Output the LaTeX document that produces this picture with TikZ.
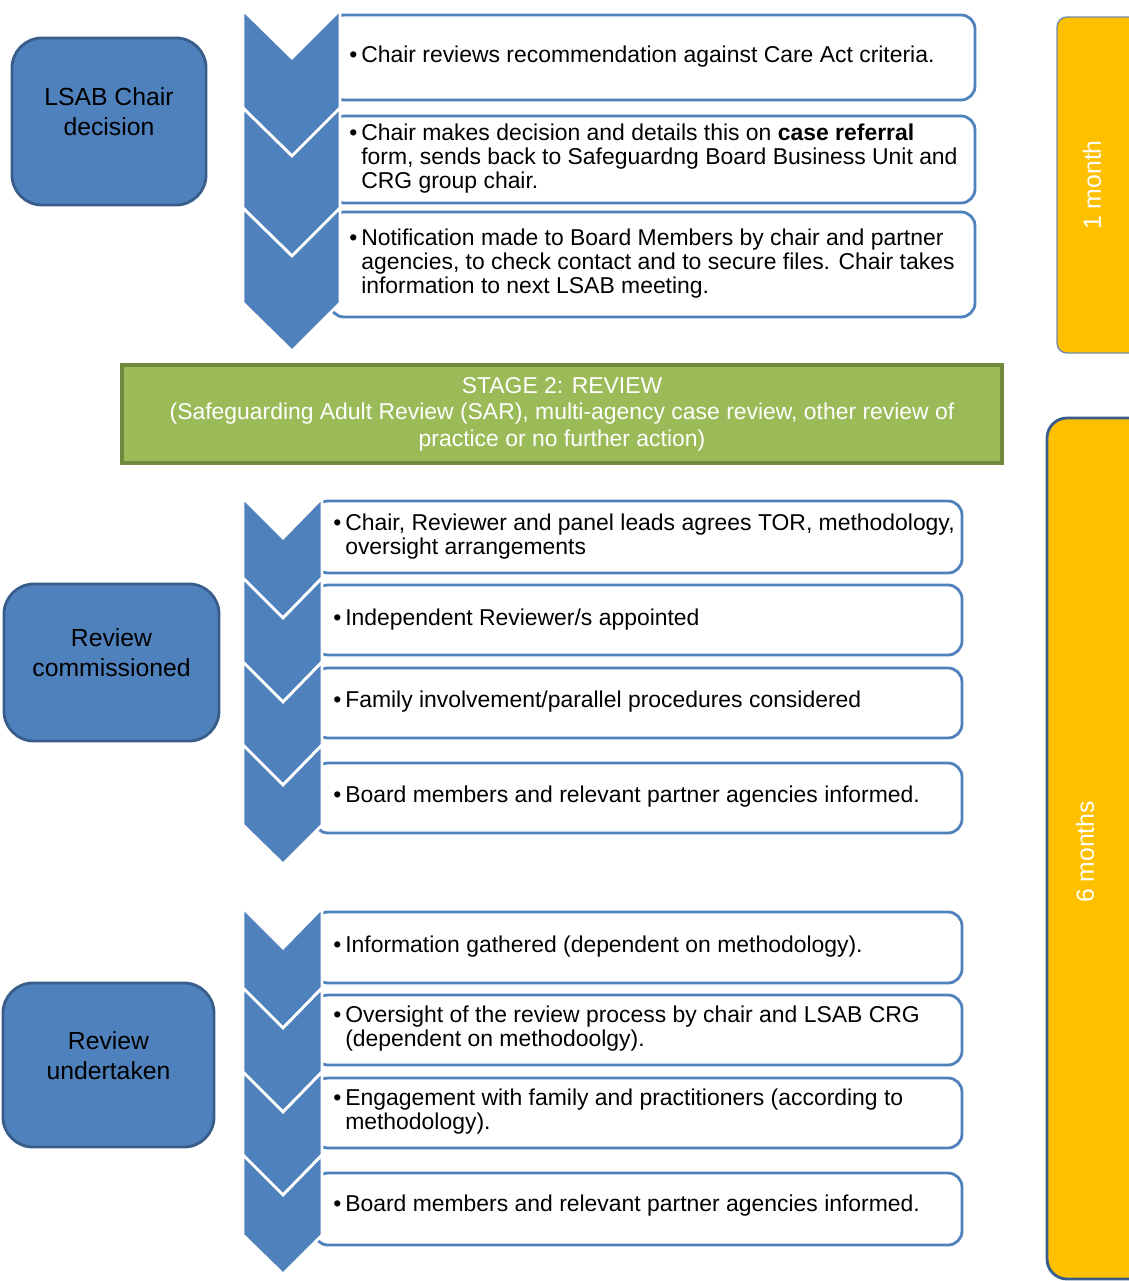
\documentclass[tikz,border=0pt]{standalone}
\usepackage{fontspec}
\setmainfont{Liberation Sans}
\usepackage{tikz}

\definecolor{chevblue}{HTML}{4F81BD}
\definecolor{phaseedge}{HTML}{385D8A}
\definecolor{stagegreen}{HTML}{9BBB59}
\definecolor{stageedge}{HTML}{71893F}
\definecolor{monthorange}{HTML}{FFC000}
\definecolor{baredge}{HTML}{6F8DB3}

\begin{document}
\begin{tikzpicture}[x=0.025cm, y=-0.025cm]
        \tikzstyle{chev} = [fill=chevblue, draw=white, line width=2pt, line join=miter]
        \tikzstyle{stepbox} = [draw=chevblue, line width=2pt, fill=white, rounded corners=0.35cm]
        \tikzstyle{steptext} = [anchor=west, align=left, inner sep=0pt, font=\fontsize{16.3}{17.1}\selectfont]
        \tikzstyle{phase} = [rectangle, draw=phaseedge, line width=2pt, fill=chevblue, rounded corners=0.75cm]
        \tikzstyle{phasetext} = [align=center, inner sep=0pt, font=\fontsize{17.6}{21.3}\selectfont]
        \tikzstyle{stage} = [rectangle, draw=stageedge, line width=3pt, fill=stagegreen, minimum width=22cm, minimum height=2.45cm, align=center, text=white, inner sep=0pt, font=\fontsize{16.3}{18.8}\selectfont]
        \tikzstyle{timetext} = [rotate=90, text=white, inner sep=0pt, font=\fontsize{17.6}{20}\selectfont]
        \useasboundingbox (0,0) rectangle (1129,1281);
        \clip (0,0) rectangle (1129,1281);

        % time bars
        \draw[fill=monthorange, draw=baredge, line width=1pt, rounded corners=0.25cm] (1057,17) rectangle (1160,353);
        \draw[fill=monthorange, draw=phaseedge, line width=2pt, rounded corners=0.5cm] (1047,418) rectangle (1160,1279);
        \node[timetext] (month1) at (1092,185) {1 month};
        \node[timetext] (month6) at (1085,852) {6 months};

        % stage 1
        \node[phase, minimum width=4.85cm, minimum height=4.175cm] (lsab) at (109,121.5) {};
        \node[phasetext] (lsabt) at (109,112) {LSAB Chair\\decision};
        \draw[stepbox] (330,15) rectangle (975,100);
        \draw[stepbox] (330,116) rectangle (975,203);
        \draw[stepbox] (330,212) rectangle (975,317);
        \draw[chev] (243,10) -- (292,58) -- (340,10) -- (340,108) -- (292,156) -- (243,108) -- cycle;
        \draw[chev] (243,108) -- (292,156) -- (340,108) -- (340,208) -- (292,256) -- (243,208) -- cycle;
        \draw[chev] (243,208) -- (292,256) -- (340,208) -- (340,303) -- (292,351) -- (243,303) -- cycle;
        \node[steptext] (s11) at (361,57) {\llap{•\,}Chair reviews recommendation against Care Act criteria.};
        \node[steptext] (s12) at (361,159) {\llap{•\,}Chair makes decision and details this on \textbf{case referral}\\form, sends back to Safeguardng Board Business Unit and\\CRG group chair.};
        \node[steptext] (s13) at (361,264) {\llap{•\,}Notification made to Board Members by chair and partner\\agencies, to check contact and to secure files. Chair takes\\information to next LSAB meeting.};

        % stage 2 banner
        \node[stage] (stage2) at (562,414) {STAGE 2: REVIEW\\(Safeguarding Adult Review (SAR), multi-agency case review, other review of\\practice or no further action)};

        % review commissioned
        \node[phase, minimum width=5.375cm, minimum height=3.925cm] (comm) at (111.5,662.5) {};
        \node[phasetext] (commt) at (111.5,653) {Review\\commissioned};
        \draw[stepbox] (314,501) rectangle (962,573);
        \draw[stepbox] (314,585) rectangle (962,655);
        \draw[stepbox] (314,668) rectangle (962,738);
        \draw[stepbox] (314,763) rectangle (962,833);
        \draw[chev] (243,498) -- (283,538) -- (322,498) -- (322,578) -- (283,618) -- (243,578) -- cycle;
        \draw[chev] (243,578) -- (283,618) -- (322,578) -- (322,662) -- (283,702) -- (243,662) -- cycle;
        \draw[chev] (243,662) -- (283,702) -- (322,662) -- (322,745) -- (283,785) -- (243,745) -- cycle;
        \draw[chev] (243,745) -- (283,785) -- (322,745) -- (322,825) -- (283,864) -- (243,825) -- cycle;
        \node[steptext] (s21) at (345,537) {\llap{•\,}Chair, Reviewer and panel leads agrees TOR, methodology,\\oversight arrangements};
        \node[steptext] (s22) at (345,620) {\llap{•\,}Independent Reviewer/s appointed};
        \node[steptext] (s23) at (345,702) {\llap{•\,}Family involvement/parallel procedures considered};
        \node[steptext] (s24) at (345,797) {\llap{•\,}Board members and relevant partner agencies informed.};

        % review undertaken
        \node[phase, minimum width=5.275cm, minimum height=4.1cm] (under) at (108.5,1065) {};
        \node[phasetext] (undert) at (108.5,1056) {Review\\undertaken};
        \draw[stepbox] (314,912) rectangle (962,983);
        \draw[stepbox] (314,995) rectangle (962,1065);
        \draw[stepbox] (314,1078) rectangle (962,1148);
        \draw[stepbox] (314,1173) rectangle (962,1245);
        \draw[chev] (243,908) -- (283,948) -- (322,908) -- (322,988) -- (283,1028) -- (243,988) -- cycle;
        \draw[chev] (243,988) -- (283,1028) -- (322,988) -- (322,1072) -- (283,1112) -- (243,1072) -- cycle;
        \draw[chev] (243,1072) -- (283,1112) -- (322,1072) -- (322,1155) -- (283,1195) -- (243,1155) -- cycle;
        \draw[chev] (243,1155) -- (283,1195) -- (322,1155) -- (322,1235) -- (283,1274) -- (243,1235) -- cycle;
        \node[steptext] (s31) at (345,947) {\llap{•\,}Information gathered (dependent on methodology).};
        \node[steptext] (s32) at (345,1029) {\llap{•\,}Oversight of the review process by chair and LSAB CRG\\(dependent on methodoolgy).};
        \node[steptext] (s33) at (345,1112) {\llap{•\,}Engagement with family and practitioners (according to\\methodology).};
        \node[steptext] (s34) at (345,1206) {\llap{•\,}Board members and relevant partner agencies informed.};
    \end{tikzpicture}
\end{document}
